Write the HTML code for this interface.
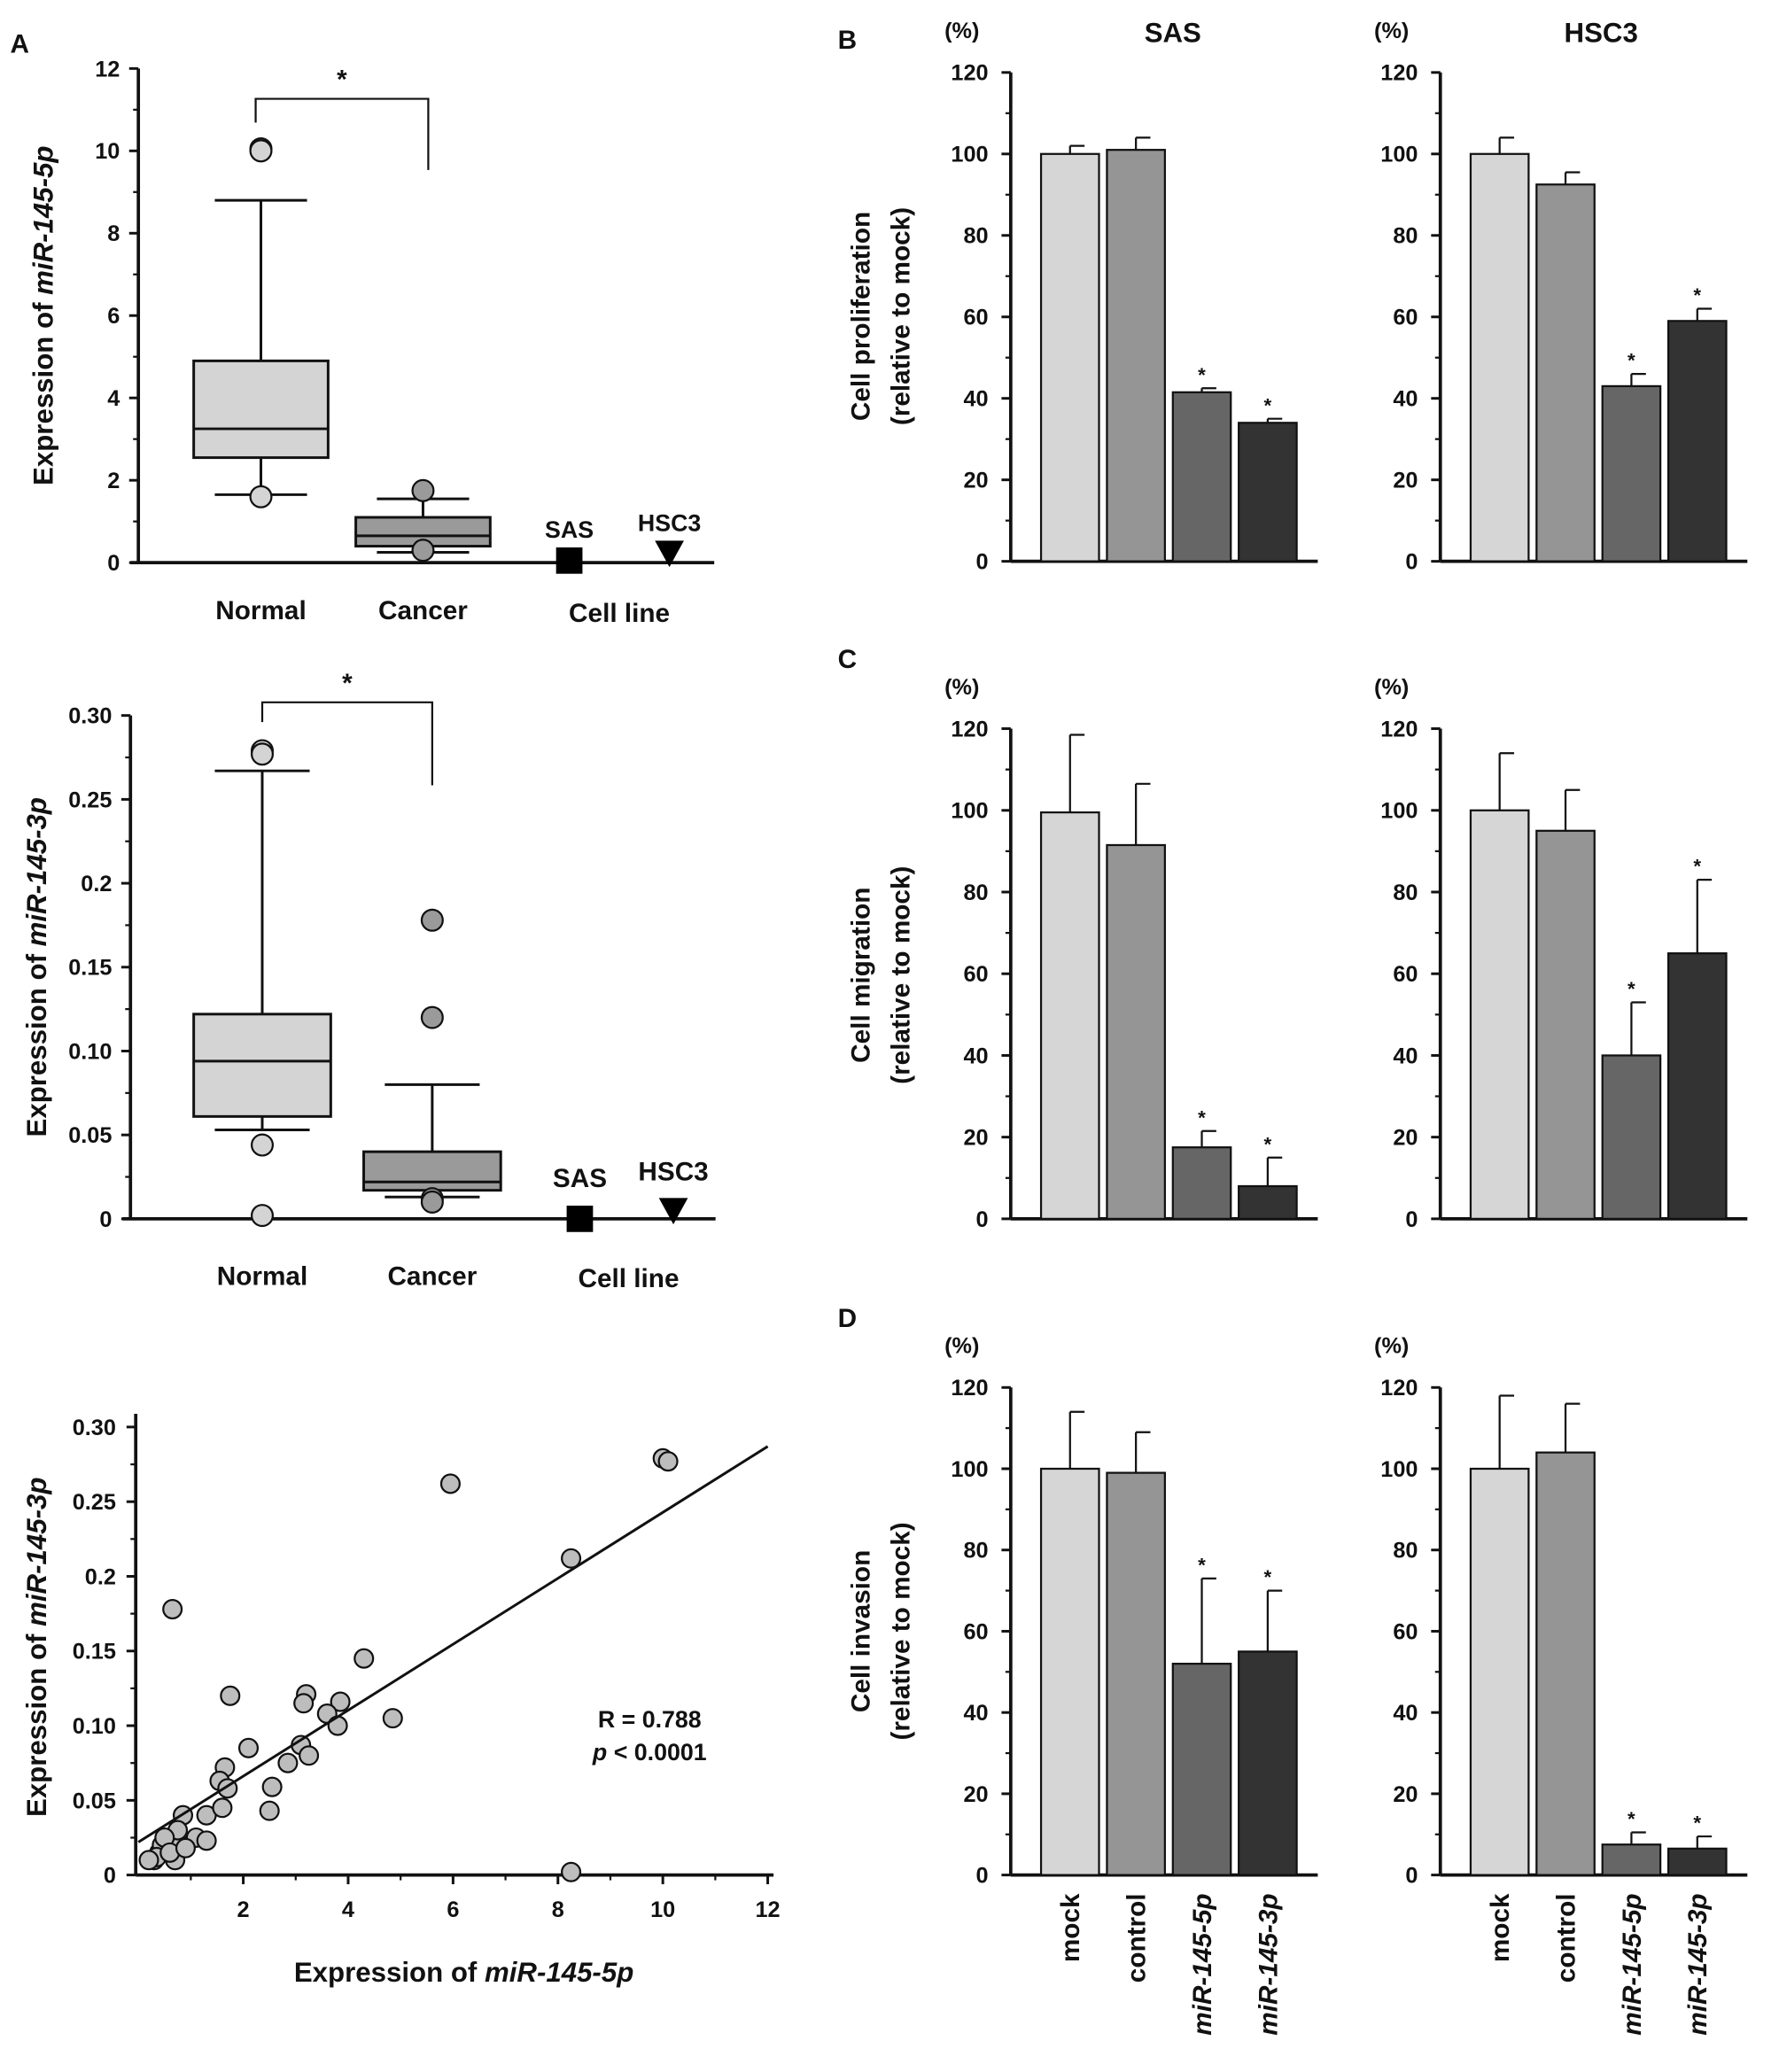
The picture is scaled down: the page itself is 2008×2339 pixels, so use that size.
<!DOCTYPE html>
<html><head><meta charset="utf-8"><style>
html,body{margin:0;padding:0;background:#fff}
svg{display:block}
text{font-family:"Liberation Sans",Arial,sans-serif;font-weight:bold;fill:#111}
</style></head><body>
<svg id="fig" xmlns="http://www.w3.org/2000/svg" width="2008" height="2339" viewBox="0 0 1350 1572.5" preserveAspectRatio="none"></svg>
<script>
// ---- data ----
const boxCats=["Normal","Cancer"];
const box5p_q1=[2.55,0.4], box5p_med=[3.25,0.65], box5p_q3=[4.9,1.1], box5p_lo=[1.65,0.25], box5p_hi=[8.8,1.55];
const box5p_out=[[10.05,10.0,1.6],[1.75,0.3]];
const cell5p=[0.05,0.15];
const box3p_q1=[0.061,0.017], box3p_med=[0.094,0.022], box3p_q3=[0.122,0.040], box3p_lo=[0.053,0.013], box3p_hi=[0.267,0.080];
const box3p_out=[[0.279,0.277,0.044,0.002],[0.178,0.120,0.012,0.010]];
const cell3p=[0.0,0.003];
const scatX=[10.0,10.1,5.95,8.25,0.65,4.3,1.75,3.2,3.85,3.15,3.6,4.85,3.8,2.1,3.1,3.25,2.85,1.65,1.55,1.7,2.55,1.3,1.6,2.5,0.85,1.1,1.3,8.25,0.3,0.4,0.5,0.6,0.7,0.8,0.55,0.45,0.35,0.2,0.65,0.75,0.5,0.6,0.9];
const scatY=[0.279,0.277,0.262,0.212,0.178,0.145,0.12,0.121,0.116,0.115,0.108,0.105,0.1,0.085,0.087,0.08,0.075,0.072,0.063,0.058,0.059,0.04,0.045,0.043,0.04,0.025,0.023,0.002,0.01,0.015,0.02,0.025,0.01,0.02,0.018,0.02,0.012,0.01,0.022,0.03,0.025,0.015,0.018];
const fitLine=[0.022,0.287];
const barCats=["mock","control","miR-145-5p","miR-145-3p"];
const B_sas=[100,101,41.5,34], B_sas_e=[2,3,1,1];
const B_hsc=[100,92.5,43,59], B_hsc_e=[4,3,3,3];
const C_sas=[99.5,91.5,17.5,8], C_sas_e=[19,15,4,7];
const C_hsc=[100,95,40,65], C_hsc_e=[14,10,13,18];
const D_sas=[100,99,52,55], D_sas_e=[14,10,21,15];
const D_hsc=[100,104,7.5,6.5], D_hsc_e=[18,12,3,3];
const barStars=[[false,false,true,true],[false,false,true,true]];
const barTicks=[0,20,40,60,80,100,120];

const svg=document.getElementById('fig');
const NS="http://www.w3.org/2000/svg";
function el(tag,attrs,parent){const e=document.createElementNS(NS,tag);for(const k in attrs)e.setAttribute(k,attrs[k]);(parent||svg).appendChild(e);return e;}
function txt(x,y,s,size,name,extra){const t=el('text',Object.assign({x:x,y:y,'font-size':size,'text-anchor':'middle'},extra||{}));t.textContent=s;


return t;}
function line(x1,y1,x2,y2,w,name){const l=el('line',{x1,y1,x2,y2,stroke:'#111','stroke-width':w||1.5});


return l;}

// panel letters
txt(15,40,"A",20,"panel-label-a");txt(643,37,"B",20,"panel-label-b");txt(643,507,"C",20,"panel-label-c");txt(643,1007,"D",20,"panel-label-d");

function boxPanel(o){
  const g=el('g',{});
  const y=v=>o.y0-(v/o.max)*(o.y0-o.yTop);
  line(o.ax,o.yTop,o.ax,o.y0,2.5,'y-axis');
  line(o.ax-6,o.y0,o.xEnd,o.y0,2.5,'x-axis');
  o.ticks.forEach((v,i)=>{line(o.ax-7,y(v),o.ax,y(v),2,'y-tick');txt(o.ax-14,y(v)+6,o.tickLabels[i],17,'y-tick-label',{'text-anchor':'end'});});
  o.minor.forEach(v=>line(o.ax-4,y(v),o.ax,y(v),1.5,'y-minor-tick'));
  const cols=['#d4d4d4','#9a9a9a'];
  boxCats.forEach((c,i)=>{
    const cx=o.cx[i],hw=o.hw,cw=o.cw;
    line(cx,y(o.hi[i]),cx,y(o.q3[i]),2,'whisker-upper');
    line(cx,y(o.lo[i]),cx,y(o.q1[i]),2,'whisker-lower');
    line(cx-cw,y(o.hi[i]),cx+cw,y(o.hi[i]),2,'whisker-cap');
    line(cx-cw,y(o.lo[i]),cx+cw,y(o.lo[i]),2,'whisker-cap');
    const r=el('rect',{x:cx-hw,y:y(o.q3[i]),width:2*hw,height:y(o.q1[i])-y(o.q3[i]),fill:cols[i],stroke:'#111','stroke-width':2});
    
    line(cx-hw,y(o.med[i]),cx+hw,y(o.med[i]),2,'median-line');
    o.out[i].forEach(v=>{const ci=el('circle',{cx:cx,cy:y(v),r:8,fill:cols[i],stroke:'#111','stroke-width':1.5});
      });
    txt(cx,o.labY,c,20,'category-label-'+c.toLowerCase());
  });
  const sq=el('rect',{x:o.sasX-10,y:y(o.cell[0])-10,width:20,height:20,fill:'#000'});
  
  const ty=y(o.cell[1]);
  const tr=el('path',{d:`M${o.hscX-11},${ty-12} L${o.hscX+11},${ty-12} L${o.hscX},${ty+8} Z`,fill:'#000'});
  
  txt(o.sasX,o.sasLY,"SAS",o.cellFs,'sas-label');txt(o.hscX,o.hscLY,"HSC3",o.cellFs,'hsc3-label');
  txt(o.cellLX,o.labY+2,"Cell line",20,'category-label-cell-line');
  // bracket
  const b=el('path',{d:`M${o.br[0]},${o.br[1]} L${o.br[0]},${o.br[2]} L${o.br[3]},${o.br[2]} L${o.br[3]},${o.br[4]}`,fill:'none',stroke:'#111','stroke-width':1.5});
  
  txt((o.br[0]+o.br[3])/2,o.br[2]-8,"*",20,'significance-star');
  const t=txt(0,0,"",21,'y-axis-title',{transform:`translate(${o.titleX},${(o.yTop+o.y0)/2}) rotate(-90)`});
  t.innerHTML='Expression of <tspan font-style="italic">'+o.mir+'</tspan>';
}
boxPanel({name:'boxplot-mir-145-5p',ax:105,y0:427,yTop:52,max:12,xEnd:542,ticks:[0,2,4,6,8,10,12],tickLabels:['0','2','4','6','8','10','12'],minor:[1,3,5,7,9,11],
 cx:[198,321],hw:51,cw:35,q1:box5p_q1,med:box5p_med,q3:box5p_q3,lo:box5p_lo,hi:box5p_hi,out:box5p_out,cell:cell5p,
 sasX:432,hscX:508,sasLY:408,hscLY:403,cellFs:18,cellLX:470,labY:470,br:[194,93,75,325,129],titleX:40,mir:'miR-145-5p'});
boxPanel({name:'boxplot-mir-145-3p',ax:99,y0:925,yTop:543,max:0.30,xEnd:543,ticks:[0,0.05,0.1,0.15,0.2,0.25,0.3],tickLabels:['0','0.05','0.10','0.15','0.2','0.25','0.30'],minor:[0.025,0.075,0.125,0.175,0.225,0.275],
 cx:[199,328],hw:52,cw:36,q1:box3p_q1,med:box3p_med,q3:box3p_q3,lo:box3p_lo,hi:box3p_hi,out:box3p_out,cell:cell3p,
 sasX:440,hscX:511,sasLY:901,hscLY:896,cellFs:20,cellLX:477,labY:975,br:[199,548,533,328,596],titleX:35,mir:'miR-145-3p'});

// scatter
(function(){
  const x0=105,y0=1423,yTop=1083;
  const sx=v=>x0+v*39.8, sy=v=>y0-(v/0.30)*(y0-yTop);
  line(103,yTop-10,103,y0,2.5,'scatter-y-axis');line(103,y0,587,y0,2.5,'scatter-x-axis');
  [0,0.05,0.1,0.15,0.2,0.25,0.3].forEach((v,i)=>{line(96,sy(v),103,sy(v),2,'y-tick');txt(88,sy(v)+6,['0','0.05','0.10','0.15','0.2','0.25','0.30'][i],17,'y-tick-label',{'text-anchor':'end'});});
  [0.025,0.075,0.125,0.175,0.225,0.275].forEach(v=>line(99,sy(v),103,sy(v),1.5,'y-minor-tick'));
  [2,4,6,8,10,12].forEach(v=>{line(sx(v),y0,sx(v),y0+7,2,'x-tick');txt(sx(v),y0+32,String(v),17,'x-tick-label');});
  [1,3,5,7,9,11].forEach(v=>line(sx(v),y0,sx(v),y0+4,1.5,'x-minor-tick'));
  scatX.forEach((v,i)=>{const c=el('circle',{cx:sx(v),cy:sy(scatY[i]),r:7,fill:'#bdbdbd',stroke:'#111','stroke-width':1.5});
    });
  line(sx(0),sy(fitLine[0]),sx(12),sy(fitLine[1]),2,'regression-line');
  txt(493,1311,"R = 0.788",18,'correlation-r');
  const p=txt(493,1336,"",18,'p-value');p.innerHTML='<tspan font-style="italic">p</tspan> &lt; 0.0001';
  const xt=txt(352,1504,"",21,'x-axis-title');xt.innerHTML='Expression of <tspan font-style="italic">miR-145-5p</tspan>';
  const yt=txt(0,0,"",21,'y-axis-title',{transform:`translate(35,1250) rotate(-90)`});yt.innerHTML='Expression of <tspan font-style="italic">miR-145-3p</tspan>';
})();

// bar panels
const barCols=['#d6d6d6','#959595','#666666','#333333'];
function barPanel(name,ax,y0,yTop,vals,errs,stars,xLabels){
  const y=v=>y0-(v/120)*(y0-yTop);
  line(ax,yTop,ax,y0,2.5,'y-axis');line(ax,y0,ax+233,y0,2.5,'x-axis');
  barTicks.forEach(v=>{line(ax-7,y(v),ax,y(v),2,'y-tick');txt(ax-17,y(v)+6,String(v),17,'y-tick-label',{'text-anchor':'end'});});
  [10,30,50,70,90,110].forEach(v=>line(ax-4,y(v),ax,y(v),1.5,'y-minor-tick'));
  txt(ax-37,yTop-26,"(%)",17,'percent-unit-label');
  vals.forEach((v,i)=>{
    const bx=ax+23+i*50;
    const r=el('rect',{x:bx,y:y(v),width:44,height:y0-y(v),fill:barCols[i],stroke:'#111','stroke-width':1.5});
    
    const cx=bx+22,ye=y(v+errs[i]);
    line(cx,y(v),cx,ye,1.5,'error-bar');line(cx,ye,cx+11,ye,1.5,'error-cap');
    if(stars[i])txt(cx,ye-5,"*",15,'significance-star');
    if(xLabels){const t=txt(0,0,barCats[i],20,'x-category-label',{'text-anchor':'end',transform:`translate(${cx+7},${y0+14}) rotate(-90)`});
      if(i>=2)t.setAttribute('font-style','italic');}
  });
}
barPanel('proliferation-sas',767,426,55,B_sas,B_sas_e,barStars[0],false);
barPanel('proliferation-hsc3',1093,426,55,B_hsc,B_hsc_e,barStars[1],false);
barPanel('migration-sas',767,925,553,C_sas,C_sas_e,barStars[0],false);
barPanel('migration-hsc3',1093,925,553,C_hsc,C_hsc_e,barStars[1],false);
barPanel('invasion-sas',767,1423,1053,D_sas,D_sas_e,barStars[0],true);
barPanel('invasion-hsc3',1093,1423,1053,D_hsc,D_hsc_e,barStars[1],true);
txt(890,32,"SAS",21,'sas-title');txt(1215,32,"HSC3",21,'hsc3-title');
[["Cell proliferation",240],["Cell migration",740],["Cell invasion",1238]].forEach(a=>{
  txt(0,0,a[0],20,'y-axis-title',{transform:`translate(660,${a[1]}) rotate(-90)`});
  txt(0,0,"(relative to mock)",20,'y-axis-subtitle',{transform:`translate(690,${a[1]}) rotate(-90)`});
});
</script>
</body></html>
